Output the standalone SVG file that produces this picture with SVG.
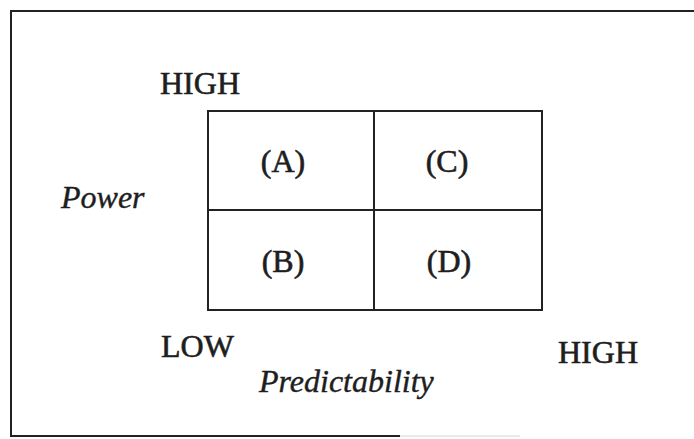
<svg xmlns="http://www.w3.org/2000/svg" width="694" height="439" viewBox="0 0 694 439">
<style>
.ln{stroke:#222;stroke-width:2;fill:none}
.t{font-family:"Liberation Serif","Times New Roman",serif;font-size:32px;fill:#1e1e1e;stroke:#1e1e1e;stroke-width:0.6}
.i{font-style:italic;stroke-width:0.4}
.c{text-anchor:middle}
</style>
<rect width="694" height="439" fill="#fff"/>
<g id="frame">
<path class="ln" d="M694,11 H11 V436 H400"/>
<path d="M400,436 H520" stroke="#e2e2e2" stroke-width="1.5" fill="none"/>
</g>
<g id="matrix">
<g id="cell-A"><rect class="ln" x="208" y="111" width="166" height="99"/><text class="t c" x="283" y="172">(A)</text></g>
<g id="cell-C"><rect class="ln" x="374" y="111" width="168" height="99"/><text class="t c" x="447" y="172">(C)</text></g>
<g id="cell-B"><rect class="ln" x="208" y="210" width="166" height="100"/><text class="t c" x="283" y="272">(B)</text></g>
<g id="cell-D"><rect class="ln" x="374" y="210" width="168" height="100"/><text class="t c" x="449" y="272">(D)</text></g>
</g>
<g id="labels">
<text id="high-top" class="t" x="160" y="94" font-size="33">HIGH</text>
<text id="power" class="t i" x="61" y="208">Power</text>
<text id="low" class="t" x="161" y="357">LOW</text>
<text id="high-right" class="t" x="558" y="363" font-size="33">HIGH</text>
<text id="predictability" class="t i" x="259" y="392" font-size="33">Predictability</text>
</g>
</svg>
